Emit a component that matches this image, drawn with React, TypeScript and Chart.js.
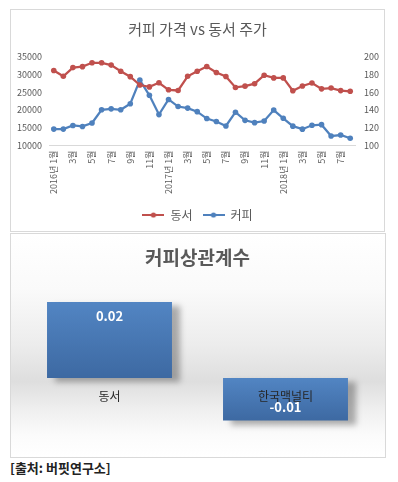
import React, { useEffect, useRef } from 'react';
import { Chart, registerables } from 'chart.js';

Chart.register(...registerables);

const FAMILY = "'Noto Sans CJK KR', 'Noto Sans', sans-serif";
const RED = '#c0504d';
const BLUE = '#4f81bd';
const GREY_TEXT = '#595959';

const monthLabels = [
  '2016년 1월', '2월', '3월', '4월', '5월', '6월', '7월', '8월', '9월', '10월', '11월', '12월',
  '2017년 1월', '2월', '3월', '4월', '5월', '6월', '7월', '8월', '9월', '10월', '11월', '12월',
  '2018년 1월', '2월', '3월', '4월', '5월', '6월', '7월', '8월',
];

// 동서 주가 (left axis, 원)
const dongsuh = [
  31180, 29550, 32000, 32270, 33360, 33360, 32710, 30990, 29440, 27090, 26550, 27720,
  25730, 25540, 29550, 30990, 32300, 30640, 29500, 26400, 26760, 27450, 29860, 29090,
  29090, 25450, 26810, 27640, 26000, 26220, 25500, 25300,
];

// 커피 가격 (right axis)
const coffee = [
  118.5, 118.5, 122.6, 121.5, 125.4, 140.3, 141.4, 140.3, 147.2, 173.8, 156.7, 134.9,
  152.0, 144.0, 142.2, 138.2, 130.4, 127.1, 122.0, 137.6, 128.4, 125.8, 127.6, 140.0,
  130.7, 121.8, 118.4, 122.8, 123.5, 110.6, 111.8, 108.2,
];

const leftTicks = { min: 10000, max: 35000, step: 5000 };
const rightTicks = { min: 100, max: 200, step: 20 };

const corrLabels = ['동서', '한국맥널티'];
const corrValues = [0.02, -0.0112];

function legendImage(color: string): HTMLCanvasElement {
  const c = document.createElement('canvas');
  c.width = 22;
  c.height = 8;
  const g = c.getContext('2d')!;
  g.strokeStyle = color;
  g.lineWidth = 2;
  g.beginPath();
  g.moveTo(0, 4);
  g.lineTo(22, 4);
  g.stroke();
  g.fillStyle = color;
  g.beginPath();
  g.arc(11, 4, 2.6, 0, Math.PI * 2);
  g.fill();
  return c;
}

const shadowPlugin = {
  id: 'barShadow',
  beforeDatasetsDraw(chart: any) {
    const ctx = chart.ctx;
    ctx.save();
    ctx.shadowColor = 'rgba(0,0,0,0.3)';
    ctx.shadowBlur = 6;
    ctx.shadowOffsetX = 8;
    ctx.shadowOffsetY = 4;
  },
  afterDatasetsDraw(chart: any) {
    chart.ctx.restore();
  },
};

const valueLabelPlugin = {
  id: 'valueLabels',
  afterDatasetsDraw(chart: any) {
    const ctx = chart.ctx;
    const meta = chart.getDatasetMeta(0);
    meta.data.forEach((el: any, i: number) => {
      const v = chart.data.datasets[0].data[i] as number;
      const p = el.getProps(['x', 'y', 'base'], true);
      const y = v >= 0 ? p.y + 14.5 : p.y - 13.5;
      ctx.save();
      ctx.shadowColor = 'transparent';
      ctx.fillStyle = '#ffffff';
      ctx.font = `bold 13px ${FAMILY}`;
      ctx.textAlign = 'center';
      ctx.textBaseline = 'middle';
      ctx.fillText(v.toFixed(2), p.x, y);
      ctx.restore();
    });
  },
};

export default function App() {
  const topRef = useRef<HTMLCanvasElement>(null);
  const botRef = useRef<HTMLCanvasElement>(null);

  useEffect(() => {
    const imgs = [legendImage(RED), legendImage(BLUE)];
    const tickFont = { size: 9, family: FAMILY };

    const c1 = new Chart(topRef.current!, {
      type: 'line',
      data: {
        labels: monthLabels,
        datasets: [
          {
            label: '동서',
            data: dongsuh,
            yAxisID: 'y',
            borderColor: RED,
            backgroundColor: RED,
            borderWidth: 2.25,
            pointRadius: 2.8,
            pointBorderWidth: 0,
            tension: 0,
          },
          {
            label: '커피',
            data: coffee,
            yAxisID: 'y1',
            borderColor: BLUE,
            backgroundColor: BLUE,
            borderWidth: 2.25,
            pointRadius: 2.8,
            pointBorderWidth: 0,
            tension: 0,
          },
        ],
      },
      options: {
        responsive: false,
        animation: false,
        layout: { padding: { left: 0, right: 0, top: 0, bottom: 0 } },
        plugins: {
          tooltip: { enabled: false },
          title: {
            display: true,
            text: '커피 가격 vs 동서 주가',
            color: GREY_TEXT,
            font: { size: 15, weight: 'normal', family: FAMILY },
            padding: { top: 10, bottom: 19 },
          },
          legend: {
            position: 'bottom',
            labels: {
              usePointStyle: true,
              pointStyleWidth: 22,
              color: GREY_TEXT,
              font: { size: 12, family: FAMILY },
              padding: 10,
              generateLabels(chart: any) {
                const items = (Chart.defaults.plugins.legend.labels as any).generateLabels(chart);
                items.forEach((it: any, i: number) => {
                  it.pointStyle = imgs[i];
                });
                return items;
              },
            },
          },
        },
        scales: {
          x: {
            offset: true,
            grid: { display: false, drawTicks: false },
            border: { display: true, color: '#d9d9d9', width: 1 },
            ticks: {
              autoSkip: false,
              minRotation: 90,
              maxRotation: 90,
              padding: 5,
              color: GREY_TEXT,
              font: tickFont,
              callback: (_v: any, i: number) => (i % 2 === 0 ? monthLabels[i] : null),
            },
          },
          y: {
            position: 'left',
            min: leftTicks.min,
            max: leftTicks.max,
            ticks: {
              stepSize: leftTicks.step,
              color: GREY_TEXT,
              font: tickFont,
              padding: 7,
              callback: (v: any) => String(v),
            },
            grid: { display: false, drawTicks: false },
            border: { display: false },
            afterFit(s: any) {
              s.width = 38;
            },
          },
          y1: {
            position: 'right',
            min: rightTicks.min,
            max: rightTicks.max,
            ticks: {
              stepSize: rightTicks.step,
              color: GREY_TEXT,
              font: tickFont,
              padding: 9,
              callback: (v: any) => String(v),
            },
            grid: { display: false, drawTicks: false },
            border: { display: false },
            afterFit(s: any) {
              s.width = 29;
            },
          },
        },
      } as any,
    });

    const c2 = new Chart(botRef.current!, {
      type: 'bar',
      data: {
        labels: corrLabels,
        datasets: [
          {
            data: corrValues,
            borderWidth: 0,
            barPercentage: 0.71,
            categoryPercentage: 1,
            backgroundColor: (ctx: any) => {
              const chart = ctx.chart;
              const ys = chart.scales && chart.scales.y;
              const v = ctx.raw as number;
              if (!ys || !chart.chartArea || typeof v !== 'number') return BLUE;
              const top = ys.getPixelForValue(Math.max(v, 0));
              const bottom = ys.getPixelForValue(Math.min(v, 0));
              if (!isFinite(top) || !isFinite(bottom) || top === bottom) return BLUE;
              const g = chart.ctx.createLinearGradient(0, top, 0, bottom);
              g.addColorStop(0, '#5285c3');
              g.addColorStop(1, '#3d69a2');
              return g;
            },
          },
        ],
      },
      options: {
        responsive: false,
        animation: false,
        layout: { padding: { left: 10.5, right: 11.5, top: 0, bottom: 22 } },
        plugins: {
          legend: { display: false },
          tooltip: { enabled: false },
          title: {
            display: true,
            text: '커피상관계수',
            color: GREY_TEXT,
            font: { size: 19, weight: 'bold', family: FAMILY },
            padding: { top: 12.6, bottom: 13.6 },
          },
        },
        scales: {
          x: {
            position: { y: 0 },
            grid: { display: false },
            border: { display: false },
            ticks: { z: 1, color: '#262626', font: { size: 12, family: FAMILY }, padding: 3 },
          },
          y: { display: false, min: -0.015, max: 0.025 },
        },
      } as any,
      plugins: [shadowPlugin, valueLabelPlugin],
    });

    return () => {
      c1.destroy();
      c2.destroy();
    };
  }, []);

  return (
    <div style={{ position: 'relative', width: 382, height: 470, fontFamily: FAMILY }}>
      <div
        style={{
          position: 'absolute',
          left: 2,
          top: 1,
          width: 375,
          height: 223,
          border: '1px solid #d9d9d9',
          boxSizing: 'border-box',
          background: '#ffffff',
        }}
      >
        <canvas ref={topRef} width={373} height={221} style={{ display: 'block' }} />
      </div>
      <div
        style={{
          position: 'absolute',
          left: 2,
          top: 225,
          width: 376,
          height: 225,
          border: '1px solid #d9d9d9',
          boxSizing: 'border-box',
          background:
            'linear-gradient(to bottom, #ffffff 0%, #fafafa 25%, #ececec 50%, #dedede 66%, #eeeeee 78%, #fbfbfb 90%, #ffffff 100%)',
        }}
      >
        <canvas ref={botRef} width={374} height={223} style={{ display: 'block' }} />
      </div>
      <div
        style={{
          position: 'absolute',
          left: 2,
          top: 451,
          fontSize: 13,
          fontWeight: 'bold',
          color: '#222222',
          lineHeight: '18px',
          whiteSpace: 'nowrap',
        }}
      >
        [출처: 버핏연구소]
      </div>
    </div>
  );
}
